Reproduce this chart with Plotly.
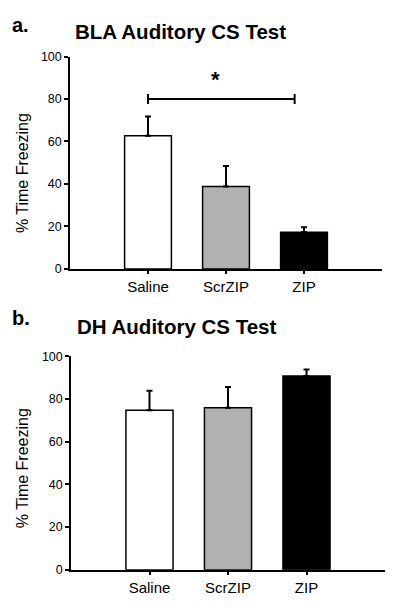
import plotly.graph_objects as go

categories = ["Saline", "ScrZIP", "ZIP"]
bar_colors = ["#ffffff", "#b1b1b1", "#000000"]

bla_means = [62.7, 38.8, 17.2]
bla_sem = [9.1, 9.7, 2.4]

dh_means = [74.7, 75.8, 90.7]
dh_sem = [9.1, 9.8, 3.0]

y_ticks = [0, 20, 40, 60, 80, 100]

# significance bracket (category index positions, value axis)
sig_x0, sig_x1, sig_y = 0, 1.88, 80
sig_star_x, sig_star_y = 0.86, 89

W, H = 400, 613
FONT = "Liberation Sans, Arial, sans-serif"

fig = go.Figure()

def add_panel(means, sems, xa, ya):
    fig.add_trace(go.Bar(
        x=categories, y=means,
        marker=dict(color=bar_colors, line=dict(color="black", width=1.5)),
        width=0.6,
        error_y=dict(type="data", array=sems, arrayminus=[0] * len(sems),
                     symmetric=False, color="black", thickness=2, width=3),
        xaxis=xa, yaxis=ya, showlegend=False,
    ))

add_panel(bla_means, bla_sem, "x", "y")
add_panel(dh_means, dh_sem, "x2", "y2")

axis_common = dict(showgrid=False, zeroline=False, showline=True, linecolor="black",
                   linewidth=1.5, ticks="outside", tickcolor="black", tickwidth=1.5,
                   tickfont=dict(family=FONT, size=15, color="black"))
ytick_font = dict(family=FONT, size=12.5, color="black")

fig.update_layout(
    width=W, height=H,
    margin=dict(l=0, r=0, t=0, b=0),
    plot_bgcolor="white", paper_bgcolor="white",
    xaxis=dict(domain=[70 / W, 382 / W], anchor="y", range=[-1, 3], ticklen=3, **axis_common),
    yaxis=dict(domain=[1 - 268 / H, 1 - 50.7 / H], anchor="x", range=[0, 100],
               tickvals=y_ticks, ticklen=4, **{**axis_common, "tickfont": ytick_font}),
    xaxis2=dict(domain=[71 / W, 385 / W], anchor="y2", range=[-1, 3], ticklen=3, **axis_common),
    yaxis2=dict(domain=[1 - 576 / H, 1 - 357.3 / H], anchor="x2", range=[0, 100],
                tickvals=y_ticks, ticklen=4, **{**axis_common, "tickfont": ytick_font}),
)

# significance bracket
fig.add_shape(type="line", xref="x", yref="y", x0=sig_x0, x1=sig_x1, y0=sig_y, y1=sig_y,
              line=dict(color="black", width=2))
for xx in (sig_x0, sig_x1):
    fig.add_shape(type="line", xref="x", yref="y", x0=xx, x1=xx, y0=sig_y - 2.3, y1=sig_y + 2.3,
                  line=dict(color="black", width=2))
fig.add_annotation(xref="x", yref="y", x=sig_star_x, y=sig_star_y, text="<b>*</b>",
                   showarrow=False, font=dict(family=FONT, size=22, color="black"))

annos = [
    ("<b>a.</b>", 10, 18, 20, "left"),
    ("<b>BLA Auditory CS Test</b>", 180.5, 25, 20.5, "center"),
    ("<b>b.</b>", 10, 318, 20, "left"),
    ("<b>DH Auditory CS Test</b>", 176.5, 327, 20.5, "center"),
]
for text, px, py, size, anchor in annos:
    fig.add_annotation(xref="paper", yref="paper", x=px / W, y=1 - py / H, text=text,
                       showarrow=False, xanchor=anchor, yanchor="middle",
                       font=dict(family=FONT, size=size, color="black"))

for py in (170, 472):
    fig.add_annotation(xref="paper", yref="paper", x=22 / W, y=1 - py / H,
                       text="% Time Freezing", textangle=-90, showarrow=False,
                       xanchor="center", yanchor="middle",
                       font=dict(family=FONT, size=16, color="black"))

fig.write_html("out.html", config={"displayModeBar": False},
               post_script="document.body.style.margin='0';document.body.style.overflow='hidden';")
